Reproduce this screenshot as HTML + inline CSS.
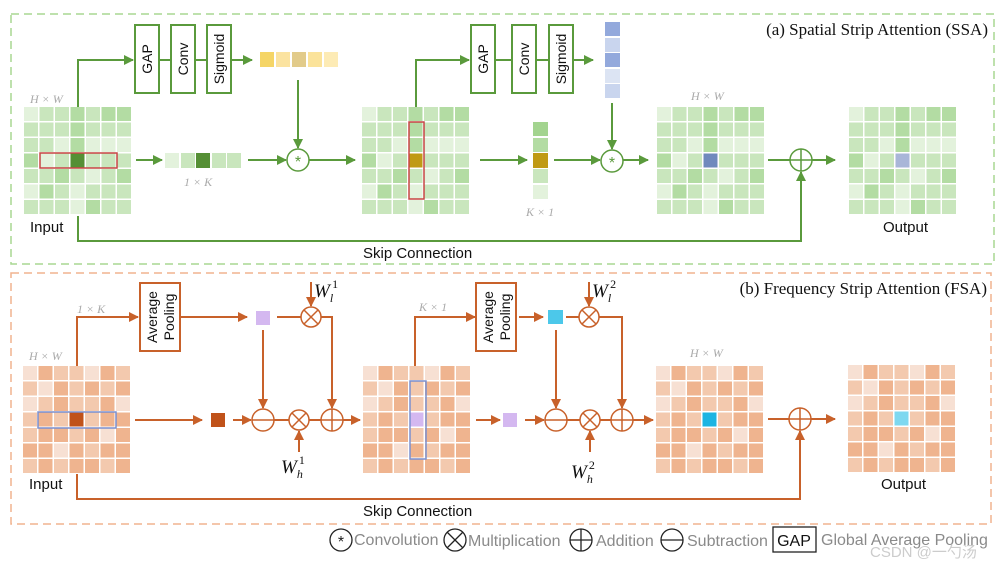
<!DOCTYPE html>
<html><head><meta charset="utf-8"><style>
html,body{margin:0;padding:0;background:#fff;width:1005px;height:567px;overflow:hidden}
svg text{font-family:"Liberation Sans",sans-serif}
.serif{font-family:"Liberation Serif",serif}
</style></head><body>
<svg id="s" width="1005" height="567" viewBox="0 0 1005 567" xmlns="http://www.w3.org/2000/svg">
<defs>
<marker id="ag" markerWidth="10" markerHeight="10" refX="9" refY="5" orient="auto" markerUnits="userSpaceOnUse"><path d="M0,0 L10,5 L0,10 z" fill="#5a9a3c"/></marker>
<marker id="ao" markerWidth="10" markerHeight="10" refX="9" refY="5" orient="auto" markerUnits="userSpaceOnUse"><path d="M0,0 L10,5 L0,10 z" fill="#c8612a"/></marker>
</defs>
<rect x="11" y="14" width="983" height="250" fill="none" stroke="#a9d792" stroke-width="1.5" stroke-dasharray="8,5"/>
<rect x="11" y="273" width="980" height="251" fill="none" stroke="#f0b38f" stroke-width="1.5" stroke-dasharray="8,5"/>
<g id="grids"></g>

<g stroke="#5a9a3c" stroke-width="2" fill="none">
<polyline points="78,107 78,60 133,60" marker-end="url(#ag)"/>
<line x1="159" y1="60" x2="171" y2="60"/><line x1="195" y1="60" x2="207" y2="60"/>
<line x1="231" y1="60" x2="252" y2="60" marker-end="url(#ag)"/>
<line x1="298" y1="80" x2="298" y2="148" marker-end="url(#ag)"/>
<line x1="136" y1="160" x2="162" y2="160" marker-end="url(#ag)"/>
<line x1="248" y1="160" x2="286" y2="160" marker-end="url(#ag)"/>
<line x1="309" y1="160" x2="355" y2="160" marker-end="url(#ag)"/>
<polyline points="416,107 416,60 469,60" marker-end="url(#ag)"/>
<line x1="495" y1="60" x2="512" y2="60"/><line x1="536" y1="60" x2="549" y2="60"/>
<line x1="573" y1="60" x2="593" y2="60" marker-end="url(#ag)"/>
<line x1="612" y1="103" x2="612" y2="149" marker-end="url(#ag)"/>
<line x1="480" y1="160" x2="527" y2="160" marker-end="url(#ag)"/>
<line x1="554" y1="160" x2="600" y2="160" marker-end="url(#ag)"/>
<line x1="623" y1="160" x2="648" y2="160" marker-end="url(#ag)"/>
<line x1="768" y1="160" x2="835" y2="160" marker-end="url(#ag)"/>
<polyline points="78,216 78,241 801,241 801,172" marker-end="url(#ag)"/>
<rect x="135" y="25" width="24" height="68" fill="#fff"/>
<rect x="171" y="25" width="24" height="68" fill="#fff"/>
<rect x="207" y="25" width="24" height="68" fill="#fff"/>
<rect x="471" y="25" width="24" height="68" fill="#fff"/>
<rect x="512" y="25" width="24" height="68" fill="#fff"/>
<rect x="549" y="25" width="24" height="68" fill="#fff"/>
<circle cx="298" cy="160" r="11" fill="#fff" stroke-width="1.5"/>
<circle cx="612" cy="161" r="11" fill="#fff" stroke-width="1.5"/>
<circle cx="801" cy="160" r="11" fill="#fff" stroke-width="1.5"/>
<path d="M790,160 H812 M801,149 V171" stroke-width="1.5"/>
</g>
<g fill="#5a9a3c" font-size="16" text-anchor="middle">
<text x="298" y="167">*</text><text x="612" y="168">*</text>
</g>
<g font-size="14" fill="#111" text-anchor="middle">
<text transform="translate(152,59) rotate(-90)">GAP</text>
<text transform="translate(188,59) rotate(-90)">Conv</text>
<text transform="translate(224,59) rotate(-90)">Sigmoid</text>
<text transform="translate(488,59) rotate(-90)">GAP</text>
<text transform="translate(529,59) rotate(-90)">Conv</text>
<text transform="translate(566,59) rotate(-90)">Sigmoid</text>
</g>
<g>
<rect x="260" y="52" width="14" height="15" fill="#f5d566"/>
<rect x="276" y="52" width="14" height="15" fill="#fbe3a0"/>
<rect x="292" y="52" width="14" height="15" fill="#e2cb8a"/>
<rect x="308" y="52" width="14" height="15" fill="#fbe39a"/>
<rect x="324" y="52" width="14" height="15" fill="#fdebb5"/>
</g>
<g>
<rect x="605" y="22" width="15" height="14" fill="#93a9dc"/>
<rect x="605" y="38" width="15" height="14" fill="#c9d5ee"/>
<rect x="605" y="53" width="15" height="14" fill="#93a9dc"/>
<rect x="605" y="69" width="15" height="14" fill="#dce4f3"/>
<rect x="605" y="84" width="15" height="14" fill="#c9d5ee"/>
</g>
<g>
<rect x="165" y="153" width="14" height="15" fill="#e3f2dc"/>
<rect x="181" y="153" width="14" height="15" fill="#c9e6bd"/>
<rect x="196" y="153" width="14" height="15" fill="#558f35"/>
<rect x="212" y="153" width="14" height="15" fill="#c9e6bd"/>
<rect x="227" y="153" width="14" height="15" fill="#c9e6bd"/>
</g>
<g>
<rect x="533" y="122" width="15" height="14" fill="#a3d48f"/>
<rect x="533" y="138" width="15" height="14" fill="#b3dca3"/>
<rect x="533" y="153" width="15" height="15" fill="#c09a14"/>
<rect x="533" y="169" width="15" height="14" fill="#c9e6bd"/>
<rect x="533" y="185" width="15" height="14" fill="#e3f2dc"/>
</g>
<g fill="#aaa" font-size="12" font-style="italic">
<text x="30" y="103" class="serif">H × W</text>
<text x="184" y="186" class="serif">1 × K</text>
<text x="526" y="216" class="serif">K × 1</text>
<text x="691" y="100" class="serif">H × W</text>
</g>
<g font-size="15" fill="#111">
<text x="30" y="232">Input</text>
<text x="883" y="232">Output</text>
<text x="363" y="258">Skip Connection</text>
</g>
<text x="988" y="35" font-size="17" text-anchor="end" class="serif" fill="#111">(a) Spatial Strip Attention (SSA)</text>

<g stroke="#c8612a" stroke-width="2" fill="none">
<polyline points="77,366 77,317 138,317" marker-end="url(#ao)"/>
<line x1="181" y1="317" x2="247" y2="317" marker-end="url(#ao)"/>
<line x1="277" y1="317" x2="301" y2="317"/>
<line x1="311" y1="282" x2="311" y2="306" marker-end="url(#ao)"/>
<polyline points="321,317 332,317 332,408" marker-end="url(#ao)"/>
<line x1="263" y1="330" x2="263" y2="408" marker-end="url(#ao)"/>
<line x1="135" y1="420" x2="202" y2="420" marker-end="url(#ao)"/>
<line x1="233" y1="420" x2="251" y2="420" marker-end="url(#ao)"/>
<line x1="274" y1="420" x2="289" y2="420"/><line x1="309" y1="420" x2="321" y2="420"/>
<line x1="299" y1="452" x2="299" y2="431" marker-end="url(#ao)"/>
<line x1="343" y1="420" x2="360" y2="420" marker-end="url(#ao)"/>
<polyline points="415,366 415,317 475,317" marker-end="url(#ao)"/>
<line x1="519" y1="317" x2="543" y2="317" marker-end="url(#ao)"/>
<line x1="566" y1="317" x2="579" y2="317"/>
<line x1="589" y1="282" x2="589" y2="306" marker-end="url(#ao)"/>
<polyline points="599,317 622,317 622,408" marker-end="url(#ao)"/>
<line x1="556" y1="330" x2="556" y2="408" marker-end="url(#ao)"/>
<line x1="476" y1="420" x2="500" y2="420" marker-end="url(#ao)"/>
<line x1="525" y1="420" x2="544" y2="420" marker-end="url(#ao)"/>
<line x1="567" y1="420" x2="580" y2="420"/><line x1="600" y1="420" x2="611" y2="420"/>
<line x1="590" y1="452" x2="590" y2="431" marker-end="url(#ao)"/>
<line x1="633" y1="420" x2="653" y2="420" marker-end="url(#ao)"/>
<line x1="768" y1="419" x2="835" y2="419" marker-end="url(#ao)"/>
<polyline points="77,474 77,499 800,499 800,431" marker-end="url(#ao)"/>
<rect x="140" y="283" width="40" height="68" fill="#fff" stroke-width="2"/>
<rect x="476" y="283" width="40" height="68" fill="#fff" stroke-width="2"/>
<g stroke-width="1.5" fill="#fff">
<circle cx="311" cy="317" r="10"/><path d="M304,310 L318,324 M318,310 L304,324"/>
<circle cx="263" cy="420" r="11"/><path d="M252,420 H274"/>
<circle cx="299" cy="420" r="10"/><path d="M292,413 L306,427 M306,413 L292,427"/>
<circle cx="332" cy="420" r="11"/><path d="M321,420 H343 M332,409 V431"/>
<circle cx="589" cy="317" r="10"/><path d="M582,310 L596,324 M596,310 L582,324"/>
<circle cx="556" cy="420" r="11"/><path d="M545,420 H567"/>
<circle cx="590" cy="420" r="10"/><path d="M583,413 L597,427 M597,413 L583,427"/>
<circle cx="622" cy="420" r="11"/><path d="M611,420 H633 M622,409 V431"/>
<circle cx="800" cy="419" r="11"/><path d="M789,419 H811 M800,408 V430"/>
</g>
</g>
<g font-size="14" fill="#111" text-anchor="middle">
<text transform="translate(157,317) rotate(-90)">Average</text>
<text transform="translate(174,317) rotate(-90)">Pooling</text>
<text transform="translate(493,317) rotate(-90)">Average</text>
<text transform="translate(510,317) rotate(-90)">Pooling</text>
</g>
<rect x="256" y="311" width="14" height="14" fill="#d4b8f0"/>
<rect x="211" y="413" width="14" height="14" fill="#c0521a"/>
<rect x="548" y="310" width="15" height="14" fill="#4cc8ea"/>
<rect x="503" y="413" width="14" height="14" fill="#d4b8f0"/>
<g fill="#aaa" font-size="12" font-style="italic">
<text x="29" y="360" class="serif">H × W</text>
<text x="77" y="313" class="serif">1 × K</text>
<text x="419" y="311" class="serif">K × 1</text>
<text x="690" y="357" class="serif">H × W</text>
</g>
<g font-style="italic" font-size="19" fill="#111">
<text x="314" y="297" class="serif">W<tspan font-size="12" dy="5">l</tspan><tspan font-size="12" font-style="normal" dx="-1" dy="-14">1</tspan></text>
<text x="281" y="473" class="serif">W<tspan font-size="12" dy="5">h</tspan><tspan font-size="12" font-style="normal" dx="-4" dy="-14">1</tspan></text>
<text x="592" y="297" class="serif">W<tspan font-size="12" dy="5">l</tspan><tspan font-size="12" font-style="normal" dx="-1" dy="-14">2</tspan></text>
<text x="571" y="478" class="serif">W<tspan font-size="12" dy="5">h</tspan><tspan font-size="12" font-style="normal" dx="-4" dy="-14">2</tspan></text>
</g>
<g font-size="15" fill="#111">
<text x="29" y="489">Input</text>
<text x="881" y="489">Output</text>
<text x="363" y="516">Skip Connection</text>
</g>
<text x="987" y="294" font-size="17" text-anchor="end" class="serif" fill="#111">(b) Frequency Strip Attention (FSA)</text>

<g stroke="#222" stroke-width="1.3" fill="none">
<circle cx="341" cy="540" r="11"/>
<circle cx="455" cy="540" r="11"/><path d="M447,532 L463,548 M463,532 L447,548"/>
<circle cx="581" cy="540" r="11"/><path d="M570,540 H592 M581,529 V551"/>
<circle cx="672" cy="540" r="11"/><path d="M661,540 H683"/>
<rect x="773" y="527" width="43" height="25"/>
</g>
<text x="341" y="547" font-size="16" text-anchor="middle" fill="#222">*</text>
<g font-size="16" fill="#8a8a8a">
<text x="354" y="545">Convolution</text>
<text x="468" y="546">Multiplication</text>
<text x="596" y="546">Addition</text>
<text x="687" y="546">Subtraction</text>
<text x="821" y="545">Global Average Pooling</text>
</g>
<text x="794" y="546" font-size="16" text-anchor="middle" fill="#111">GAP</text>
<text x="870" y="557" font-size="15" fill="#ccc" font-family="Liberation Sans, Noto Sans CJK SC, sans-serif">CSDN @一勺汤</text>
</svg>
<script>
var G=["#e3f2dc","#c9e6bd","#b3dca3","#a3d48f"],O=["#f7e0d3","#f3c9ae","#efb48f","#eba779"];
var gp=[[0,1,1,2,1,2,2],[1,1,1,2,1,1,1],[1,1,0,2,0,0,0],[2,0,1,3,1,1,1],[1,1,2,1,0,1,2],[0,2,1,0,1,1,1],[1,1,1,0,2,1,1]];
var op=[[0,2,1,1,0,2,1],[1,0,2,1,2,1,2],[0,1,2,1,1,2,0],[1,2,1,3,1,2,2],[1,2,2,1,2,0,2],[2,2,0,2,1,2,2],[1,2,1,2,2,1,2]];
var ns="http://www.w3.org/2000/svg",g=document.getElementById("grids");
function grid(x,y,pal,pat,center){var c=15.5;for(var r=0;r<7;r++)for(var k=0;k<7;k++){var e=document.createElementNS(ns,"rect");e.setAttribute("x",x+k*c);e.setAttribute("y",y+r*c);e.setAttribute("width",c-1.5);e.setAttribute("height",c-1.5);var f=pal[pat[r][k]];if(r==3&&k==3)f=center;e.setAttribute("fill",f);g.appendChild(e);}}
function rect(x,y,w,h,s){var e=document.createElementNS(ns,"rect");e.setAttribute("x",x);e.setAttribute("y",y);e.setAttribute("width",w);e.setAttribute("height",h);e.setAttribute("fill","none");e.setAttribute("stroke",s);e.setAttribute("stroke-width","1.5");g.appendChild(e);}
grid(24,107,G,gp,"#558f35");grid(362,107,G,gp,"#c09a14");grid(657,107,G,gp,"#7089bd");grid(849,107,G,gp,"#a9b6d8");
grid(23,366,O,op,"#c0521a");grid(363,366,O,op,"#d4b8f0");grid(656,366,O,op,"#1cb4e2");grid(848,365,O,op,"#7ed8f0");
rect(40,153,77,15,"#c84545");rect(409,122,15,77,"#c84545");
rect(38,412,78,16,"#7a8fcf");rect(410,381,16,78,"#7a8fcf");
</script>
</body></html>
